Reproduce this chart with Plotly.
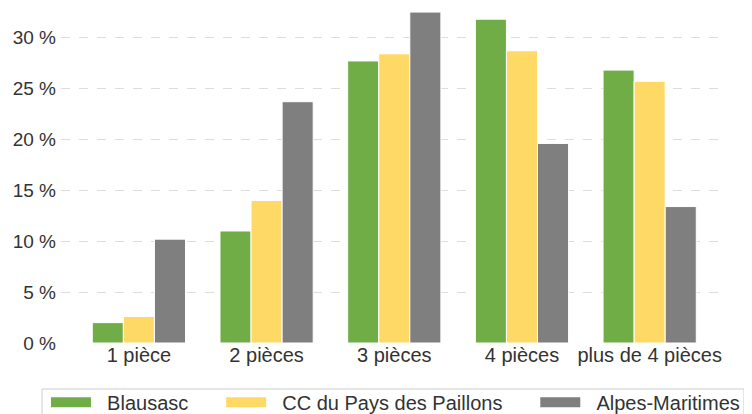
import plotly.graph_objects as go

categories = ["1 pièce", "2 pièces", "3 pièces", "4 pièces", "plus de 4 pièces"]
series_names = ["Blausasc", "CC du Pays des Paillons", "Alpes-Maritimes"]
blausasc = [2.0, 11.0, 27.7, 31.8, 26.8]
cc_paillons = [2.6, 14.0, 28.4, 28.7, 25.7]
alpes_maritimes = [10.2, 23.7, 32.5, 19.6, 13.4]
tick_vals = [0, 5, 10, 15, 20, 25, 30]
tick_text = ["0 %", "5 %", "10 %", "15 %", "20 %", "25 %", "30 %"]

colors = ["#70ad47", "#ffd966", "#7f7f7f"]
all_series = [blausasc, cc_paillons, alpes_maritimes]

NB = "\u00a0"

fig = go.Figure()
for name, vals, col in zip(series_names, all_series, colors):
    fig.add_trace(go.Bar(
        x=categories, y=vals, name=name, showlegend=False,
        marker=dict(color=col, line=dict(color="white", width=1)),
        hovertemplate="%{x}: %{y:.1f} %<extra>" + name + "</extra>",
    ))
# legend entries with wide swatches
for i, (name, col) in enumerate(zip(series_names, colors)):
    label = NB * 2 + name
    if i < len(series_names) - 1:
        label += NB * 4 + "\u2009\u200a"
    fig.add_trace(go.Scatter(
        x=[None], y=[None], mode="lines", name=label,
        line=dict(color=col, width=12), showlegend=True,
    ))

fig.update_layout(
    width=744, height=406,
    margin=dict(l=53, r=27, t=0, b=71, autoexpand=False),
    paper_bgcolor="white", plot_bgcolor="white",
    barmode="group", bargap=0.27, bargroupgap=0.0,
    font=dict(family="Liberation Sans, Arial, sans-serif", size=20, color="#333333"),
    xaxis=dict(
        range=[-0.61, 4.59], showgrid=False, showline=False, zeroline=False,
        ticks="", tickfont=dict(size=20, color="#333333"), automargin=False,
        ticklabelstandoff=-2,
    ),
    yaxis=dict(
        range=[0, 32.9], tickvals=tick_vals, ticktext=tick_text,
        showgrid=True, gridcolor="#dddddd", griddash="dash", gridwidth=1,
        zeroline=False, showline=False, ticks="", automargin=False,
        tickfont=dict(size=19, color="#333333"), ticklabelstandoff=4,
    ),
    legend=dict(
        orientation="h", x=-0.0226, xanchor="left", y=-0.119, yanchor="top",
        borderwidth=0, itemwidth=40, bgcolor="rgba(0,0,0,0)",
        font=dict(size=20, color="#333333"), traceorder="normal",
    ),
    shapes=[dict(
        type="rect", xref="paper", yref="paper",
        x0=-0.0286, x1=1.0286, y0=-0.1373, y1=-0.35,
        line=dict(color="#cccccc", width=1), fillcolor="rgba(0,0,0,0)",
        layer="below",
    )],
)

fig.write_html("out.html")
